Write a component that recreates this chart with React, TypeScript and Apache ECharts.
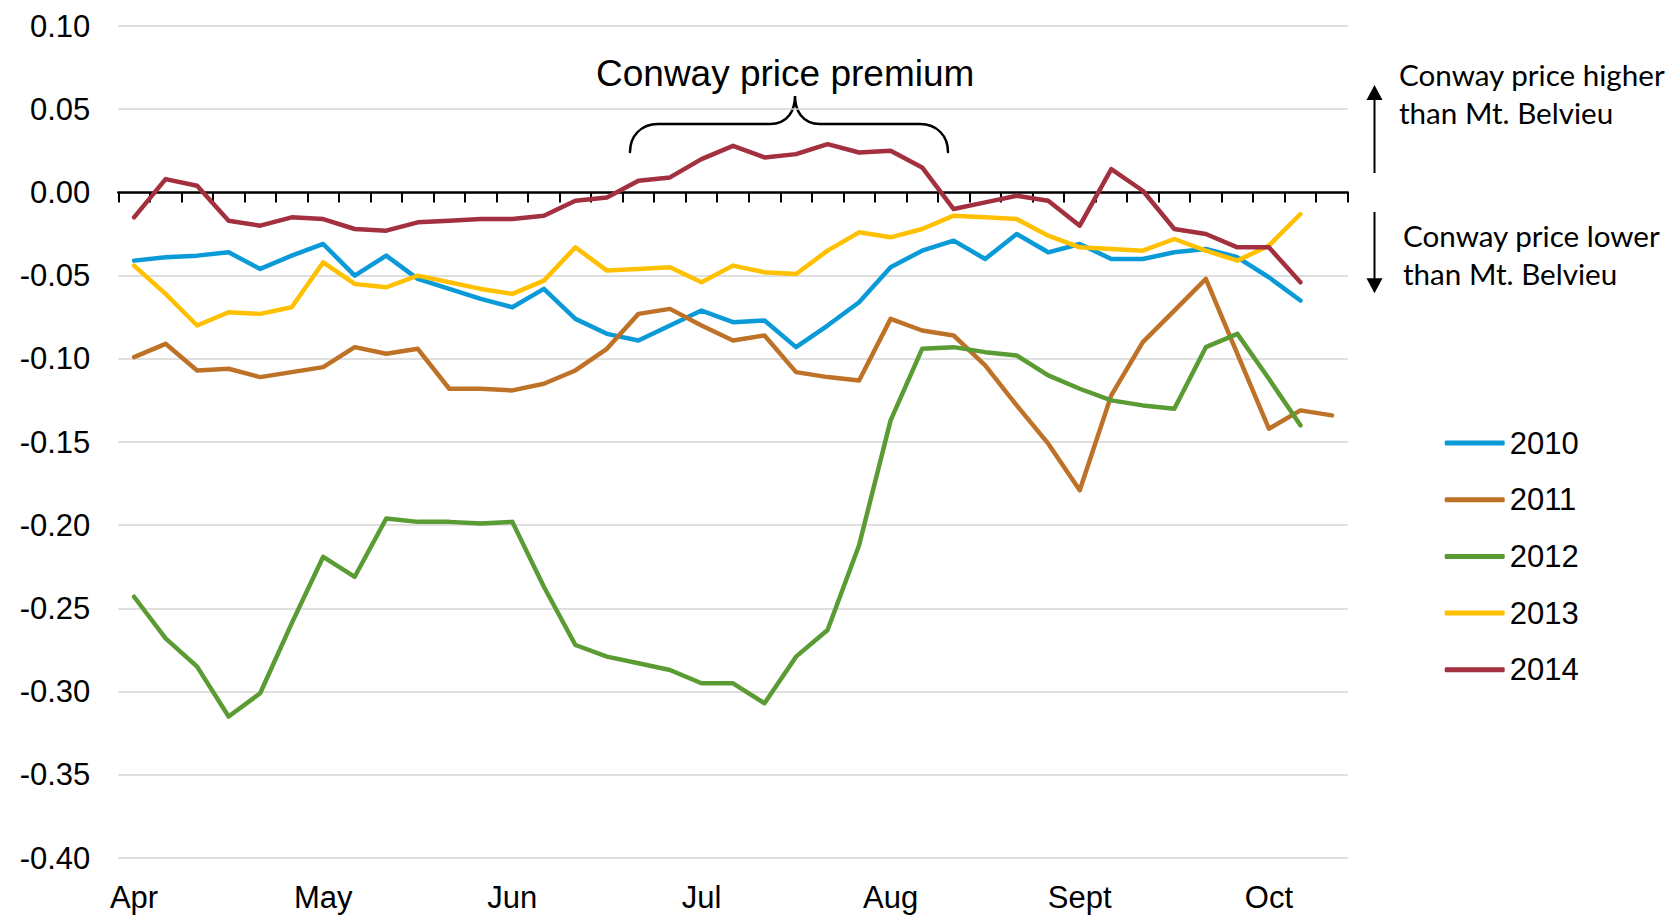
import React, { useEffect, useRef } from "react";
import * as echarts from "echarts";

const weeks = [
  "W1", "W2", "W3", "W4", "W5", "W6", "W7", "W8", "W9", "W10",
  "W11", "W12", "W13", "W14", "W15", "W16", "W17", "W18", "W19", "W20",
  "W21", "W22", "W23", "W24", "W25", "W26", "W27", "W28", "W29", "W30",
  "W31", "W32", "W33", "W34", "W35", "W36", "W37", "W38", "W39",
];
const monthTicks = ["Apr", "May", "Jun", "Jul", "Aug", "Sept", "Oct"];

const s2010 = [
  -0.041, -0.039, -0.038, -0.036, -0.046, -0.038, -0.031, -0.05, -0.038, -0.052,
  -0.058, -0.064, -0.069, -0.058, -0.076, -0.085, -0.089, -0.08, -0.071, -0.078,
  -0.077, -0.093, -0.08, -0.066, -0.045, -0.035, -0.029, -0.04, -0.025, -0.036,
  -0.031, -0.04, -0.04, -0.036, -0.034, -0.039, -0.051, -0.065,
];
const s2011 = [
  -0.099, -0.091, -0.107, -0.106, -0.111, -0.108, -0.105, -0.093, -0.097, -0.094,
  -0.118, -0.118, -0.119, -0.115, -0.107, -0.094, -0.073, -0.07, -0.08, -0.089,
  -0.086, -0.108, -0.111, -0.113, -0.076, -0.083, -0.086, -0.104, -0.128, -0.151,
  -0.179, -0.122, -0.09, -0.071, -0.052, -0.097, -0.142, -0.131, -0.134,
];
const s2012 = [
  -0.243, -0.268, -0.285, -0.315, -0.301, -0.259, -0.219, -0.231, -0.196, -0.198,
  -0.198, -0.199, -0.198, -0.237, -0.272, -0.279, -0.283, -0.287, -0.295, -0.295,
  -0.307, -0.279, -0.263, -0.212, -0.137, -0.094, -0.093, -0.096, -0.098, -0.11,
  -0.118, -0.125, -0.128, -0.13, -0.093, -0.085, -0.112, -0.14,
];
const s2013 = [
  -0.044, -0.061, -0.08, -0.072, -0.073, -0.069, -0.042, -0.055, -0.057, -0.05,
  -0.054, -0.058, -0.061, -0.053, -0.033, -0.047, -0.046, -0.045, -0.054, -0.044,
  -0.048, -0.049, -0.035, -0.024, -0.027, -0.022, -0.014, -0.015, -0.016, -0.026,
  -0.033, -0.034, -0.035, -0.028, -0.035, -0.041, -0.032, -0.013,
];
const s2014 = [
  -0.015, 0.008, 0.004, -0.017, -0.02, -0.015, -0.016, -0.022, -0.023, -0.018,
  -0.017, -0.016, -0.016, -0.014, -0.005, -0.003, 0.007, 0.009, 0.02, 0.028,
  0.021, 0.023, 0.029, 0.024, 0.025, 0.015, -0.01, -0.006, -0.002, -0.005,
  -0.02, 0.014, 0.001, -0.022, -0.025, -0.033, -0.033, -0.054,
];

const seriesNames = ["2010", "2011", "2012", "2013", "2014"];
const seriesData = [s2010, s2011, s2012, s2013, s2014];
const seriesColors = ["#0A9AD7", "#BE7228", "#5A9B33", "#FFC000", "#A3303F"];

const BRACE_D =
  "M630,152 C630,136 641,124 658,124 L770,124 C788,124 795,110 795,96 C795,110 802,124 820,124 L920,124 C937,124 948,136 948,152";

let registered = false;
function registerBrace() {
  if (registered) return;
  echarts.graphic.registerShape("brace", echarts.graphic.extendPath(BRACE_D, {}) as any);
  registered = true;
}

export default function App() {
  const ref = useRef<HTMLDivElement>(null);

  useEffect(() => {
    if (!ref.current) return;
    registerBrace();
    const chart = echarts.init(ref.current, undefined, { renderer: "svg" });
    const arial = "Liberation Sans, Arial, sans-serif";
    const calibriLike = "Lato, Noto Sans, sans-serif";

    const option: any = {
      animation: false,
      backgroundColor: "#ffffff",
      textStyle: { fontFamily: arial },
      grid: { left: 118.3, right: 321.3, top: 26, bottom: 57, containLabel: false },
      legend: {
        orient: "vertical",
        left: 1439.7,
        top: 422.5,
        icon: "roundRect",
        itemWidth: 60,
        itemHeight: 5,
        itemGap: 25.7,
        textStyle: { fontSize: 31, lineHeight: 30, color: "#000", fontFamily: arial },
        data: seriesNames,
      },
      xAxis: [
        {
          type: "category",
          data: weeks,
          boundaryGap: true,
          position: "bottom",
          axisLine: { show: true, onZero: true, lineStyle: { color: "#000", width: 2.5 } },
          axisTick: { show: true, interval: 0, length: 10, lineStyle: { color: "#000", width: 2 } },
          axisLabel: { show: false },
          splitLine: { show: false },
        },
        {
          type: "category",
          data: weeks,
          boundaryGap: true,
          position: "bottom",
          axisLine: { show: false, onZero: false },
          axisTick: { show: false },
          axisLabel: {
            show: true,
            interval: 0,
            margin: 24,
            fontSize: 31,
            color: "#000",
            fontFamily: arial,
            formatter: (_v: string, i: number) => (i % 6 === 0 ? monthTicks[i / 6] : ""),
          },
          splitLine: { show: false },
        },
      ],
      yAxis: {
        type: "value",
        min: -0.4,
        max: 0.1,
        interval: 0.05,
        axisLine: { show: false },
        axisTick: { show: false },
        axisLabel: {
          margin: 28,
          fontSize: 31,
          color: "#000",
          fontFamily: arial,
          formatter: (v: number) => v.toFixed(2),
        },
        splitLine: { show: true, lineStyle: { color: "#d4d4d4", width: 1.5 } },
      },
      series: seriesNames.map((name, k) => ({
        name,
        type: "line",
        xAxisIndex: 0,
        data: seriesData[k],
        showSymbol: false,
        symbol: "none",
        smooth: false,
        color: seriesColors[k],
        itemStyle: { color: seriesColors[k] },
        lineStyle: { color: seriesColors[k], width: 4.5, cap: "round", join: "round" },
      })),
      graphic: [
        {
          type: "text",
          x: 596,
          y: 73.3,
          style: {
            text: "Conway price premium",
            fontSize: 37,
            fontFamily: arial,
            fill: "#000",
            align: "left",
            verticalAlign: "middle",
          },
        },
        {
          type: "brace",
          x: 0,
          y: 0,
          style: { stroke: "#000", fill: "none", lineWidth: 2.5, lineCap: "round" },
        },
        {
          type: "line",
          shape: { x1: 1374.5, y1: 173, x2: 1374.5, y2: 98 },
          style: { stroke: "#000", lineWidth: 2 },
        },
        {
          type: "polygon",
          shape: { points: [[1374.5, 85], [1366.5, 100], [1382.5, 100]] },
          style: { fill: "#000" },
        },
        {
          type: "line",
          shape: { x1: 1374.5, y1: 212, x2: 1374.5, y2: 281 },
          style: { stroke: "#000", lineWidth: 2 },
        },
        {
          type: "polygon",
          shape: { points: [[1374.5, 293.3], [1366.5, 278.3], [1382.5, 278.3]] },
          style: { fill: "#000" },
        },
        {
          type: "text",
          x: 1399,
          y: 93,
          style: {
            text: "Conway price higher\nthan Mt. Belvieu",
            fontSize: 29.6,
            lineHeight: 38,
            fontFamily: calibriLike,
            fill: "#000",
            align: "left",
            verticalAlign: "middle",
          },
        },
        {
          type: "text",
          x: 1403,
          y: 254.7,
          style: {
            text: "Conway price lower\nthan Mt. Belvieu",
            fontSize: 29.6,
            lineHeight: 38,
            fontFamily: calibriLike,
            fill: "#000",
            align: "left",
            verticalAlign: "middle",
          },
        },
      ],
    };

    chart.setOption(option);
    return () => {
      chart.dispose();
    };
  }, []);

  return (
    <div
      ref={ref}
      style={{ position: "absolute", left: 0, top: 0, width: 1669, height: 915, background: "#fff" }}
    />
  );
}
